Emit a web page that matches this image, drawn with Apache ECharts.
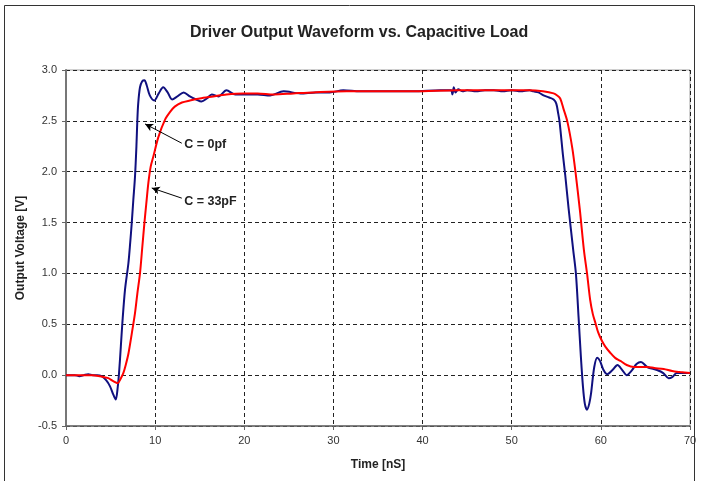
<!DOCTYPE html>
<html>
<head>
<meta charset="utf-8">
<script src="https://cdn.jsdelivr.net/npm/echarts@6/dist/echarts.min.js"></script>
<style>html,body{margin:0;padding:0;background:#fff}#c{width:701px;height:481px}</style>
</head>
<body>
<div id="c"></div>
<script>
// ---- data (time in nS, voltage in V) ----
var titleText = 'Driver Output Waveform vs. Capacitive Load';
var xName = 'Time [nS]';
var yName = 'Output Voltage [V]';
var seriesNames = ['C = 0pf', 'C = 33pF'];

var timeC0 = [0,1,1.5,2,2.5,3,3.5,4.0,4.5,4.94,5.3,5.58,5.8,5.95,6.15,6.32,6.62,7.0,7.2,7.37,7.55,7.74,7.9,8.0,8.1,8.3,8.55,8.8,9.05,9.4,9.9,10.4,10.9,11.4,11.9,12.5,13.2,13.9,14.6,15.2,15.8,16.35,17.1,18.0,19.0,20.3,21.5,22.9,24.4,26.3,28,29.6,31.1,33,36,39,42,43.2,43.35,43.5,43.7,44,44.5,45,46,47,48,49,50,51,52,52.45,53,53.57,54.2,54.7,55.0,55.2,55.37,55.75,56.0,56.38,56.9,57.2,57.5,57.76,57.99,58.2,58.44,58.7,58.9,59.26,59.6,59.9,60.3,60.7,61.3,61.87,62.4,62.9,63.5,64.0,64.5,65.2,66.3,67.0,67.6,68.0,68.5,69.2,70];
var voltC0 = [0.0,0.0,-0.01,0.0,0.01,0.0,0.0,-0.01,-0.05,-0.11,-0.19,-0.24,-0.12,0.02,0.28,0.51,0.84,1.10,1.30,1.49,1.72,1.95,2.25,2.50,2.67,2.83,2.89,2.90,2.85,2.75,2.70,2.77,2.83,2.78,2.71,2.74,2.78,2.74,2.71,2.69,2.72,2.76,2.74,2.80,2.76,2.76,2.76,2.75,2.79,2.77,2.78,2.78,2.80,2.79,2.79,2.79,2.80,2.80,2.76,2.83,2.78,2.81,2.79,2.80,2.79,2.80,2.80,2.79,2.80,2.79,2.80,2.79,2.78,2.75,2.73,2.71,2.67,2.58,2.49,2.16,1.97,1.64,1.23,1.00,0.57,0.18,-0.11,-0.28,-0.34,-0.28,-0.18,0.08,0.17,0.14,0.05,0.01,0.05,0.10,0.05,0.00,0.05,0.11,0.13,0.08,0.05,0.02,-0.03,-0.02,0.02,0.02,0.02];

var timeC33 = [0,1,2,3,3.8,4.3,4.75,5.3,5.8,6.1,6.43,6.7,7.0,7.4,7.74,8.0,8.3,8.55,8.79,9.0,9.24,9.5,9.8,10.36,11.1,11.7,12.2,13.0,13.9,15.0,16.5,18.0,19.9,21.5,23.3,25.5,27.8,31.5,35,39,44,49.5,52,53.5,54.7,55.1,55.44,55.8,56.25,56.8,57.15,57.65,58.1,58.45,58.8,59.1,59.4,59.7,60.1,60.5,61.05,61.6,62.2,62.9,63.7,65.2,66,67.05,68,68.9,70];
var voltC33 = [0,0,0,0,-0.01,-0.02,-0.03,-0.06,-0.08,-0.04,0.02,0.10,0.21,0.42,0.61,0.80,1.0,1.25,1.49,1.68,1.89,2.05,2.15,2.34,2.51,2.59,2.64,2.68,2.70,2.72,2.74,2.76,2.77,2.77,2.76,2.77,2.78,2.79,2.79,2.79,2.80,2.80,2.80,2.79,2.77,2.75,2.72,2.62,2.49,2.23,2.0,1.62,1.23,1.0,0.74,0.60,0.51,0.42,0.34,0.28,0.22,0.17,0.14,0.10,0.08,0.08,0.07,0.06,0.04,0.03,0.02];

// annotation arrows: [text anchor, arrow head] in data units
var noteFrom = [[12.99, 2.28], [12.99, 1.74]];
var noteTo   = [[8.87, 2.47], [9.62, 1.84]];
var noteText = [[13.2, 2.27], [13.2, 1.71]];

function zip(a, b) { return a.map(function (v, i) { return [v, b[i]]; }); }

var chart = echarts.init(document.getElementById('c'), null, {renderer: 'canvas'});
var font = 'Liberation Sans, Arial, sans-serif';

chart.setOption({
  animation: false,
  backgroundColor: '#fff',
  textStyle: {fontFamily: font},
  title: {
    text: titleText, left: 185, top: 20,
    textStyle: {fontSize: 16, fontWeight: 'bold', color: '#222', fontFamily: font}
  },
  graphic: [{
    type: 'rect', silent: true,
    shape: {x: 4.5, y: 5.5, width: 690, height: 490},
    style: {fill: 'none', stroke: '#333', lineWidth: 1}
  }],
  grid: {left: 66, right: 11, top: 70, bottom: 55, show: true, borderColor: '#a0a0a0', borderWidth: 1, containLabel: false},
  xAxis: {
    type: 'value', min: 0, max: 70, interval: 10,
    name: xName, nameLocation: 'middle', nameGap: 33,
    nameTextStyle: {fontSize: 12, fontWeight: 'bold', color: '#222', fontFamily: font},
    axisLine: {show: true, onZero: false, lineStyle: {color: '#666', width: 1.5}},
    axisTick: {show: true, inside: false, length: 4, lineStyle: {color: '#666'}},
    axisLabel: {fontSize: 11, color: '#333', margin: 9, fontFamily: font},
    splitLine: {show: true, lineStyle: {color: '#222', width: 1, type: [4, 3]}}
  },
  yAxis: {
    type: 'value', min: -0.5, max: 3.0, interval: 0.5,
    name: yName, nameLocation: 'middle', nameGap: 38,
    nameTextStyle: {fontSize: 12, fontWeight: 'bold', color: '#222', fontFamily: font},
    axisLine: {show: true, onZero: false, lineStyle: {color: '#777', width: 2}},
    axisTick: {show: true, inside: false, length: 4, lineStyle: {color: '#666'}},
    axisLabel: {fontSize: 11, color: '#333', margin: 9, fontFamily: font,
      formatter: function (v) { return v.toFixed(1); }},
    splitLine: {show: true, lineStyle: {color: '#222', width: 1, type: [4, 3]}}
  },
  series: [
    {
      name: seriesNames[0], type: 'line', data: zip(timeC0, voltC0),
      showSymbol: false, smooth: 0.3, z: 2,
      lineStyle: {color: '#10107f', width: 2}
    },
    {
      name: seriesNames[1], type: 'line', data: zip(timeC33, voltC33),
      showSymbol: false, smooth: 0.3, z: 3,
      lineStyle: {color: '#ff0000', width: 2},
      markLine: {
        silent: true, symbol: ['none', 'arrow'], symbolSize: [6, 8], animation: false,
        lineStyle: {color: '#000', width: 1, type: 'solid'},
        label: {show: false},
        data: noteFrom.map(function (f, i) { return [{coord: f}, {coord: noteTo[i]}]; })
      },
      markPoint: {
        silent: true, symbol: 'circle', symbolSize: 1, itemStyle: {color: 'rgba(0,0,0,0)'},
        label: {show: true, position: 'right', distance: 0, fontSize: 12.5, fontWeight: 'bold', color: '#222', fontFamily: font,
          formatter: function (p) { return p.name; }},
        data: noteText.map(function (c, i) { return {coord: c, name: seriesNames[i]}; })
      }
    }
  ]
});
</script>
</body>
</html>
